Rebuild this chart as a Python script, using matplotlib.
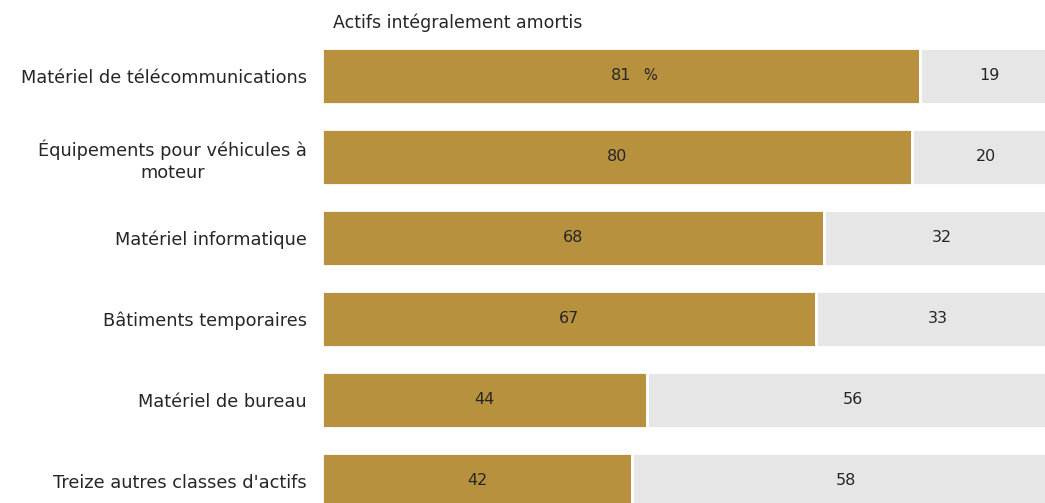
import matplotlib.pyplot as plt

categories = [
    "Matériel de télécommunications",
    "Équipements pour véhicules à\nmoteur",
    "Matériel informatique",
    "Bâtiments temporaires",
    "Matériel de bureau",
    "Treize autres classes d'actifs",
]
amortis = [81, 80, 68, 67, 44, 42]
restants = [19, 20, 32, 33, 56, 58]
titre = "Actifs intégralement amortis"

gold = "#B8913F"
grey = "#E6E6E6"
txt = "#262626"

plt.rcParams["font.family"] = ["DejaVu Sans"]

fig = plt.figure(figsize=(10.45, 5.03), dpi=100)
ax = fig.add_axes([322 / 1045, 0, 738 / 1045, 1])

y = list(range(len(categories)))
ax.barh(y, amortis, height=0.69, color=gold, edgecolor="white", linewidth=2)
ax.barh(y, restants, left=amortis, height=0.69, color=grey, edgecolor="white", linewidth=2)

for i, (a, r) in enumerate(zip(amortis, restants)):
    ax.text(a / 2, i, f"{a}", ha="center", va="center", fontsize=11.5, color=txt)
    ax.text(a + r / 2, i, f"{r}", ha="center", va="center", fontsize=11.5, color=txt)

# unit sign only on the first row, set just right of the number
ax.annotate("%", xy=(amortis[0] / 2, 0), xytext=(16, 0), textcoords="offset points",
            ha="left", va="center", fontsize=10.5, color=txt)

ax.set_xlim(0, 100)
ax.set_ylim(5.272, -0.938)
ax.set_yticks(y)
ax.set_yticklabels(categories, fontsize=12.8, color=txt, linespacing=1.3)
for lbl in ax.get_yticklabels():
    lbl.set_multialignment("center")
ax.tick_params(axis="y", length=0, pad=11)
ax.set_xticks([])
for s in ax.spines.values():
    s.set_visible(False)

fig.text(333 / 1045, 1 - 23 / 503, titre, ha="left", va="center", fontsize=12.5, color=txt)

fig.savefig("out.png", dpi=100)
